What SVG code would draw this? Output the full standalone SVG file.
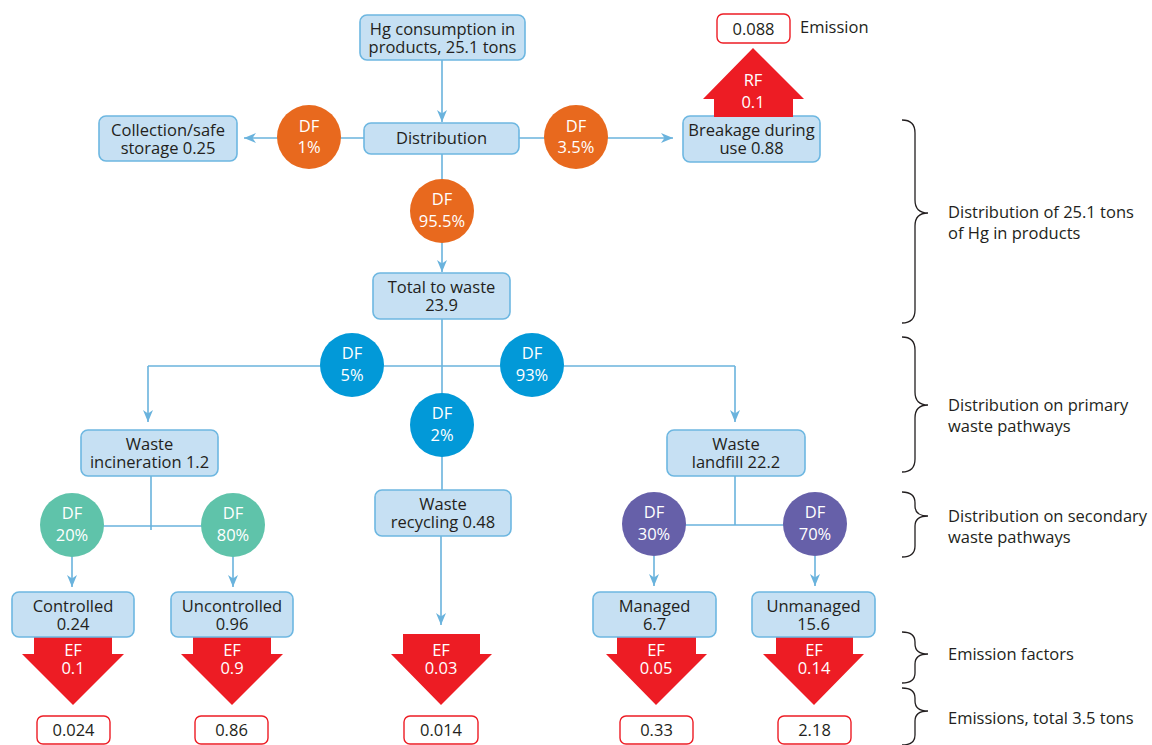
<svg xmlns="http://www.w3.org/2000/svg" width="1152" height="745" viewBox="0 0 1152 745">
<defs>
<style>
text{font-family:"Open Sans","Noto Sans","Liberation Sans",sans-serif;font-size:16.5px;fill:#231F20;text-anchor:middle}
.box{fill:#C6E0F3;stroke:#6DB7E1;stroke-width:1.6}
.res{fill:#fff;stroke:#ED1C24;stroke-width:1.4}
.con{stroke:#6AB3DD;stroke-width:1.6;fill:none}
.w{fill:#fff}
.or{fill:#E8691E}.bl{fill:#0299D8}.gr{fill:#5FC3AA}.pu{fill:#6660A9}
.red{fill:#ED1C24}
.br{fill:none;stroke:#231F20;stroke-width:1.3}
.lab{text-anchor:start}
</style>
<marker id="ah" viewBox="0 0 12 10" refX="12" refY="5" markerWidth="12" markerHeight="10" markerUnits="userSpaceOnUse" orient="auto">
<path d="M0,0 L12,5 L0,10 L3.5,5 z" fill="#6AB3DD"/>
</marker>
</defs>
<rect width="1152" height="745" fill="#fff"/>

<g id="connectors">
<path class="con" d="M442,60 V122" marker-end="url(#ah)"/>
<path class="con" d="M364,138 H244" marker-end="url(#ah)"/>
<path class="con" d="M519,138 H673" marker-end="url(#ah)"/>
<path class="con" d="M442,154 V272" marker-end="url(#ah)"/>
<path class="con" d="M442,318 V490"/>
<path class="con" d="M148,366 H735"/>
<path class="con" d="M148,366 V422" marker-end="url(#ah)"/>
<path class="con" d="M735,366 V422" marker-end="url(#ah)"/>
<path class="con" d="M151,476 V530 M72,526 H233"/>
<path class="con" d="M72,556 V587" marker-end="url(#ah)"/>
<path class="con" d="M233,556 V587" marker-end="url(#ah)"/>
<path class="con" d="M735,476 V525 M654,525 H815"/>
<path class="con" d="M654,556 V586" marker-end="url(#ah)"/>
<path class="con" d="M815,556 V586" marker-end="url(#ah)"/>
<path class="con" d="M441,536 V625" marker-end="url(#ah)"/>
</g>

<g id="hg"><rect class="box" x="360" y="15" width="165" height="45" rx="7"/><text x="442.5" y="35">Hg consumption in</text><text x="442.5" y="53">products, 25.1 tons</text></g>
<g id="distribution"><rect class="box" x="364" y="123" width="155" height="31" rx="7"/><text x="441.5" y="144">Distribution</text></g>
<g id="collection"><rect class="box" x="99" y="116" width="138" height="45" rx="7"/><text x="168" y="136">Collection/safe</text><text x="168" y="154">storage 0.25</text></g>
<g id="breakage"><rect class="box" x="683" y="116" width="137" height="46" rx="7"/><text x="751.5" y="136">Breakage during</text><text x="751.5" y="154">use 0.88</text></g>
<g id="total"><rect class="box" x="373" y="273" width="137" height="46" rx="7"/><text x="441.5" y="293">Total to waste</text><text x="441.5" y="311">23.9</text></g>
<g id="incineration"><rect class="box" x="81" y="430" width="137" height="46" rx="7"/><text x="149.5" y="450">Waste</text><text x="149.5" y="468">incineration 1.2</text></g>
<g id="recycling"><rect class="box" x="375" y="490" width="136" height="46" rx="7"/><text x="443" y="510">Waste</text><text x="443" y="528">recycling 0.48</text></g>
<g id="landfill"><rect class="box" x="667" y="430" width="138" height="46" rx="7"/><text x="736" y="450">Waste</text><text x="736" y="468">landfill 22.2</text></g>

<g id="df1"><circle class="or" cx="309" cy="137" r="32"/><text class="w" x="309" y="132">DF</text><text class="w" x="309" y="153">1%</text></g>
<g id="df35"><circle class="or" cx="576" cy="137" r="32"/><text class="w" x="576" y="132">DF</text><text class="w" x="576" y="153">3.5%</text></g>
<g id="df955"><circle class="or" cx="442" cy="211" r="32"/><text class="w" x="442" y="205">DF</text><text class="w" x="442" y="227">95.5%</text></g>
<g id="df5"><circle class="bl" cx="352" cy="365" r="32"/><text class="w" x="352" y="359">DF</text><text class="w" x="352" y="381">5%</text></g>
<g id="df93"><circle class="bl" cx="532" cy="365" r="32"/><text class="w" x="532" y="359">DF</text><text class="w" x="532" y="381">93%</text></g>
<g id="df2"><circle class="bl" cx="442" cy="425" r="32"/><text class="w" x="442" y="419">DF</text><text class="w" x="442" y="441">2%</text></g>
<g id="df20"><circle class="gr" cx="72" cy="525" r="32"/><text class="w" x="72" y="519">DF</text><text class="w" x="72" y="541">20%</text></g>
<g id="df80"><circle class="gr" cx="233" cy="525" r="32"/><text class="w" x="233" y="519">DF</text><text class="w" x="233" y="541">80%</text></g>
<g id="df30"><circle class="pu" cx="654" cy="524" r="32"/><text class="w" x="654" y="518">DF</text><text class="w" x="654" y="540">30%</text></g>
<g id="df70"><circle class="pu" cx="815" cy="524" r="32"/><text class="w" x="815" y="518">DF</text><text class="w" x="815" y="540">70%</text></g>

<g id="rf"><polygon class="red" points="753,48 804,99 793,99 793,117 714,117 714,99 703,99"/><text class="w" x="753" y="86">RF</text><text class="w" x="753" y="108">0.1</text></g>
<g id="emission"><rect class="res" x="717" y="14" width="73" height="29" rx="6"/><text x="753.5" y="35">0.088</text><text class="lab" x="800" y="33">Emission</text></g>

<g id="ef1"><polygon class="red" points="34,636 112,636 112,654 124,654 73,705 22,654 34,654"/><text class="w" x="73" y="656">EF</text><text class="w" x="73" y="674">0.1</text></g>
<g id="ef2"><polygon class="red" points="193,636 271,636 271,654 283,654 232,705 181,654 193,654"/><text class="w" x="232" y="656">EF</text><text class="w" x="232" y="674">0.9</text></g>
<g id="ef3"><polygon class="red" points="403,634 480,634 480,654 492,654 441,705 391,654 403,654"/><text class="w" x="441" y="656">EF</text><text class="w" x="441" y="674">0.03</text></g>
<g id="ef4"><polygon class="red" points="617,636 696,636 696,654 707,654 656,705 606,654 617,654"/><text class="w" x="656" y="656">EF</text><text class="w" x="656" y="674">0.05</text></g>
<g id="ef5"><polygon class="red" points="776,636 853,636 853,654 864,654 814,705 763,654 776,654"/><text class="w" x="814" y="656">EF</text><text class="w" x="814" y="674">0.14</text></g>

<g id="controlled"><rect class="box" x="12" y="592" width="122" height="45" rx="7"/><text x="73" y="612">Controlled</text><text x="73" y="630">0.24</text></g>
<g id="uncontrolled"><rect class="box" x="171" y="592" width="122" height="45" rx="7"/><text x="232" y="612">Uncontrolled</text><text x="232" y="630">0.96</text></g>
<g id="managed"><rect class="box" x="593" y="592" width="123" height="45" rx="7"/><text x="654.5" y="612">Managed</text><text x="654.5" y="630">6.7</text></g>
<g id="unmanaged"><rect class="box" x="752" y="592" width="123" height="45" rx="7"/><text x="813.5" y="612">Unmanaged</text><text x="813.5" y="630">15.6</text></g>

<g id="r1"><rect class="res" x="37" y="716" width="73" height="28" rx="6"/><text x="73.5" y="736">0.024</text></g>
<g id="r2"><rect class="res" x="195" y="716" width="73" height="28" rx="6"/><text x="231.5" y="736">0.86</text></g>
<g id="r3"><rect class="res" x="404" y="716" width="74" height="28" rx="6"/><text x="441" y="736">0.014</text></g>
<g id="r4"><rect class="res" x="620" y="716" width="73" height="28" rx="6"/><text x="656.5" y="736">0.33</text></g>
<g id="r5"><rect class="res" x="778" y="716" width="73" height="28" rx="6"/><text x="814.5" y="736">2.18</text></g>

<g id="braces">
<path class="br" d="M902,120 Q915,120 915,133 V200 Q915,213 928,213 Q915,213 915,226 V310 Q915,323 902,323"/>
<text class="lab" x="948" y="218">Distribution of 25.1 tons</text><text class="lab" x="948" y="239">of Hg in products</text>
<path class="br" d="M902,337 Q915,337 915,350 V392 Q915,405 928,405 Q915,405 915,418 V459 Q915,472 902,472"/>
<text class="lab" x="948" y="411">Distribution on primary</text><text class="lab" x="948" y="432">waste pathways</text>
<path class="br" d="M902,492 Q915,492 915,503 V506 Q915,516 928,516 Q915,516 915,526 V546 Q915,557 902,557"/>
<text class="lab" x="948" y="522">Distribution on secondary</text><text class="lab" x="948" y="543">waste pathways</text>
<path class="br" d="M902,632 Q915,632 915,642 V644 Q915,654 928,654 Q915,654 915,664 V673 Q915,683 902,683"/>
<text class="lab" x="948" y="660">Emission factors</text>
<path class="br" d="M902,688 Q915,688 915,698 V701 Q915,711 928,711 Q915,711 915,721 V735 Q915,745 902,745"/>
<text class="lab" x="948" y="724">Emissions, total 3.5 tons</text>
</g>
</svg>
